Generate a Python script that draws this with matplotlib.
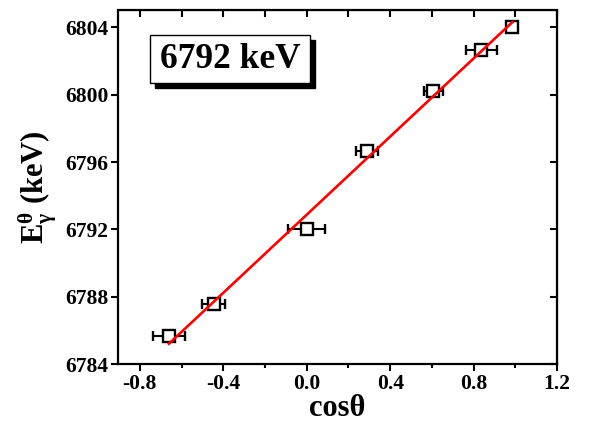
import matplotlib
matplotlib.use("Agg")
import matplotlib.pyplot as plt
import numpy as np
from matplotlib.patches import Rectangle

plt.rcParams['font.family'] = ['Liberation Serif', 'DejaVu Serif']
plt.rcParams['font.weight'] = 'bold'
plt.rcParams['mathtext.fontset'] = 'custom'
plt.rcParams['mathtext.rm'] = 'Liberation Serif:bold'
plt.rcParams['mathtext.it'] = 'Liberation Serif:bold'
plt.rcParams['mathtext.bf'] = 'Liberation Serif:bold'

# Data
cos_theta = [-0.661, -0.445, 0.0, 0.290, 0.607, 0.837, 0.986]
energy = [6785.67, 6787.55, 6792.0, 6796.66, 6800.21, 6802.68, 6804.02]
cos_err = [0.076, 0.055, 0.089, 0.053, 0.045, 0.074, 0.0]
fit_slope = 11.6
fit_intercept = 6792.87
fit_range = [-0.661, 0.986]
label_text = "6792 keV"
x_ticks = [-0.8, -0.4, 0.0, 0.4, 0.8, 1.2]
y_ticks = [6784, 6788, 6792, 6796, 6800, 6804]

fig = plt.figure(figsize=(5.89, 4.23), dpi=100)
W, H = 589, 423
left, right, top, bottom = 118, 557, 10.5, 364
ax = fig.add_axes([left / W, 1 - bottom / H, (right - left) / W, (bottom - top) / H])

ax.errorbar(cos_theta, energy, xerr=cos_err, fmt='s', mfc='white', mec='black',
            mew=1.7, ms=8.5, ecolor='black', elinewidth=1.5, capsize=3.5, capthick=1.5,
            zorder=3)
xf = np.array(fit_range)
ax.plot(xf, fit_intercept + fit_slope * xf, color='red', lw=1.9, zorder=4)

ax.set_xlim(-0.905, 1.2)
ax.set_ylim(6784, 6805)
ax.set_xticks(x_ticks)
ax.set_xticklabels([f"{v:.1f}" for v in x_ticks])
ax.set_xticks(np.arange(-0.6, 1.2, 0.4), minor=True)
ax.set_yticks(y_ticks)
for s in ax.spines.values():
    s.set_linewidth(1.6)
ax.tick_params(axis='both', which='major', direction='out', length=5, width=1.5,
               labelsize=15.5, pad=2)
ax.tick_params(axis='x', which='minor', direction='out', length=3, width=1.5)
for lab in ax.get_xticklabels() + ax.get_yticklabels():
    lab.set_fontweight('bold')

# mirrored inward ticks on top and right
sx = ax.secondary_xaxis('top')
sx.set_xticks(np.arange(-0.8, 1.21, 0.2))
sx.tick_params(direction='in', length=5, width=1.5, labeltop=False)
sy = ax.secondary_yaxis('right')
sy.set_yticks(y_ticks)
sy.tick_params(direction='in', length=5, width=1.5, labelright=False)

ax.set_xlabel("cosθ", fontsize=22, fontweight='bold', labelpad=0)
ax.set_ylabel(r"$\mathbf{E}_{\gamma}^{\theta}$ (keV)", fontsize=22, fontweight='bold', labelpad=4)

# text box with shadow
bx0, by0, bx1, by1 = 150, 35, 310, 83
sh = 5
fig.patches.append(Rectangle(((bx0 + sh) / W, 1 - (by1 + sh) / H), (bx1 - bx0) / W, (by1 - by0) / H,
                             transform=fig.transFigure, facecolor='black', edgecolor='black', zorder=5))
fig.patches.append(Rectangle((bx0 / W, 1 - by1 / H), (bx1 - bx0) / W, (by1 - by0) / H,
                             transform=fig.transFigure, facecolor='white', edgecolor='black', lw=1.0, zorder=6))
fig.text((bx0 + bx1) / 2 / W, 1 - (by0 + by1) / 2 / H, label_text, ha='center', va='center',
         fontsize=25.5, fontweight='bold', zorder=7)

fig.savefig("out.png", dpi=100)
